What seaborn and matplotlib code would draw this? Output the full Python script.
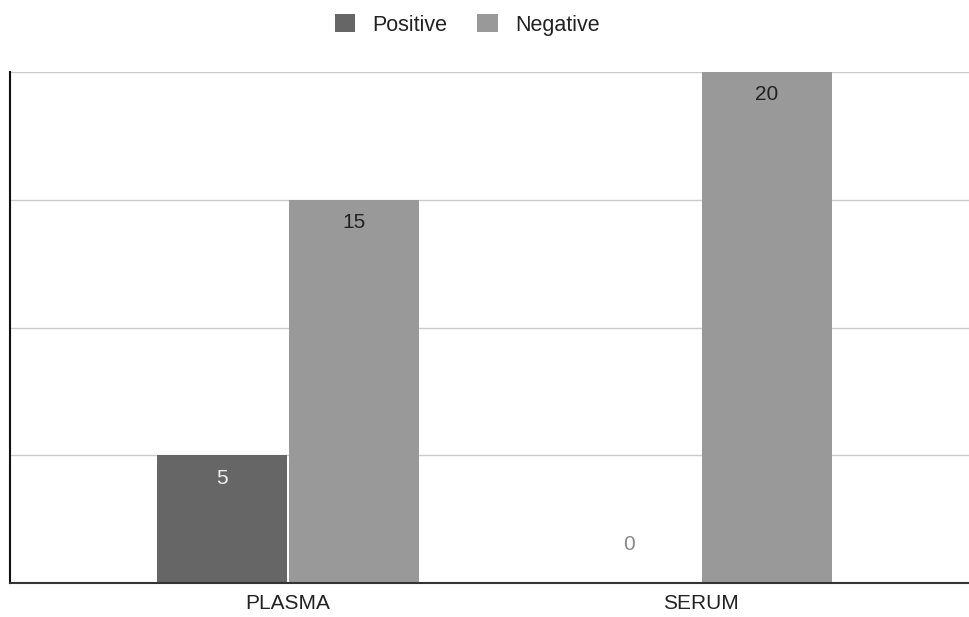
import pandas as pd
import seaborn as sns
import matplotlib.pyplot as plt
from matplotlib.patches import Patch

# data
samples = ['PLASMA', 'SERUM']
positive = [5, 0]
negative = [15, 20]
series = ['Positive', 'Negative']
colors = ['#666666', '#999999']

df = pd.DataFrame({
    'sample': samples * 2,
    'result': ['Positive'] * len(samples) + ['Negative'] * len(samples),
    'count': positive + negative,
})

sns.set_style('white')
plt.rcParams['font.family'] = ['Liberation Sans', 'DejaVu Sans']

fig = plt.figure(figsize=(9.69, 6.17), dpi=100)
ax = fig.add_axes([10 / 969, 34 / 617, 959 / 969, 511 / 617])

sns.barplot(data=df, x='sample', y='count', hue='result', hue_order=series,
            palette=colors, width=0.64, gap=0.02, saturation=1, ax=ax,
            legend=False, edgecolor='none')

ax.set_xlim(-0.673, 1.649)
ax.set_ylim(0, 20)
ax.set_yticks([0, 5, 10, 15, 20])
ax.set_yticklabels([])
ax.tick_params(axis='y', length=0)
ax.tick_params(axis='x', length=0, labelsize=15, colors='#222222', pad=8)
ax.grid(axis='y', color='#cccccc', linewidth=1)
ax.set_axisbelow(True)
ax.set_xlabel('')
ax.set_ylabel('')
for s in ['top', 'right']:
    ax.spines[s].set_visible(False)
ax.spines['left'].set_color('#111111')
ax.spines['left'].set_linewidth(1.5)
ax.spines['bottom'].set_color('#333333')
ax.spines['bottom'].set_linewidth(1.5)

# value labels
for cont, col in zip(ax.containers, series):
    for bar in cont:
        h = bar.get_height()
        xc = bar.get_x() + bar.get_width() / 2
        if h == 0:
            ax.text(xc - 0.015, 1.5, '0', ha='center', va='center', fontsize=15, color='#888888')
        else:
            tc = '#eeeeee' if col == 'Positive' else '#222222'
            ax.text(xc, h - 0.9, f'{h:.0f}', ha='center', va='center', fontsize=15, color=tc)

handles = [Patch(facecolor=c, edgecolor='none') for c in colors]
fig.legend(handles, series, loc='center', bbox_to_anchor=(0.482, 0.96), ncol=2,
           frameon=False, fontsize=15.5, handlelength=0.95, handleheight=0.95,
           columnspacing=1.4, handletextpad=0.8, labelcolor='#222222')

fig.savefig('out.png', dpi=100)
